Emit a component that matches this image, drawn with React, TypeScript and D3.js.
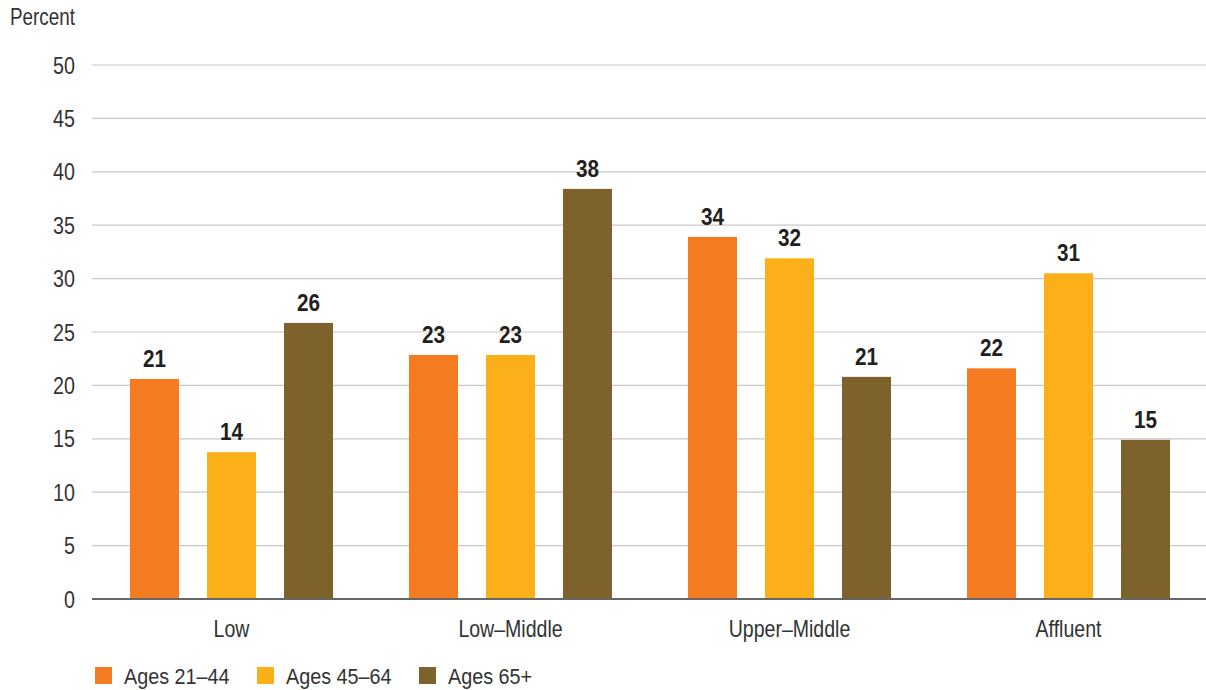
import React from "react";
import * as d3 from "d3";

const categories = ["Low", "Low\u2013Middle", "Upper\u2013Middle", "Affluent"];
const seriesNames = ["Ages 21\u201344", "Ages 45\u201364", "Ages 65+"];
const seriesColors = ["#F47B20", "#FBB01A", "#7D632B"];
const ages2144 = [20.6, 22.85, 33.9, 21.6];
const ages4564 = [13.75, 22.85, 31.9, 30.5];
const ages65 = [25.85, 38.4, 20.8, 14.9];
const labels2144 = ["21", "23", "34", "22"];
const labels4564 = ["14", "23", "32", "31"];
const labels65 = ["26", "38", "21", "15"];
const yTicks = [0, 5, 10, 15, 20, 25, 30, 35, 40, 45, 50];

const series = [ages2144, ages4564, ages65];
const seriesLabels = [labels2144, labels4564, labels65];

const W = 1206;
const H = 690;
const FONT = "'Liberation Sans', Arial, sans-serif";

function T(props: {
  x: number;
  y: number;
  sx?: number;
  size: number;
  anchor?: string;
  bold?: boolean;
  fill?: string;
  children: React.ReactNode;
}) {
  const { x, y, sx = 0.85, size, anchor = "start", bold = false, fill = "#333", children } = props;
  return (
    <text
      transform={`translate(${x},${y}) scale(${sx},1)`}
      textAnchor={anchor}
      fontFamily={FONT}
      fontSize={size}
      fontWeight={bold ? "bold" : "normal"}
      fill={fill}
    >
      {children}
    </text>
  );
}

export default function App() {
  const left = 92;
  const right = 1206;
  const y = d3.scaleLinear().domain([0, 50]).range([599, 65]);
  const x0 = d3.scaleBand<string>().domain(categories).range([92, 1208]).padding(0);
  const bw = 49;
  const offsets = [-77, 0, 77];

  return (
    <svg width={W} height={H} style={{ position: "absolute", left: 0, top: 0 }}>
      <rect x={0} y={0} width={W} height={H} fill="#fff" />
      <T x={10} y={25} size={23} sx={0.82}>Percent</T>
      {yTicks.map((t) => (
        <g key={t}>
          {t !== 0 && (
            <line x1={left} x2={right} y1={y(t)} y2={y(t)} stroke="#c8c8c8" strokeWidth={1.2} />
          )}
          <T x={75} y={y(t) + 8.5} anchor="end" size={24} sx={0.82}>
            {t}
          </T>
        </g>
      ))}
      {categories.map((c, ci) => {
        const cx = (x0(c) as number) + x0.bandwidth() / 2;
        return (
          <g key={c}>
            {series.map((s, si) => {
              const bx = cx + offsets[si] - bw / 2;
              return (
                <g key={si}>
                  <rect x={bx} y={y(s[ci])} width={bw} height={y(0) - y(s[ci])} fill={seriesColors[si]} />
                  <T x={bx + bw / 2} y={y(s[ci]) - 12} anchor="middle" size={23} sx={0.9} bold fill="#231f20">
                    {seriesLabels[si][ci]}
                  </T>
                </g>
              );
            })}
            <T x={cx} y={637} anchor="middle" size={23} sx={0.85}>
              {c}
            </T>
          </g>
        );
      })}
      <line x1={left} x2={right} y1={y(0)} y2={y(0)} stroke="#666" strokeWidth={2} />
      {seriesNames.map((n, i) => {
        const lx = [95, 257, 419][i];
        return (
          <g key={n}>
            <rect x={lx} y={667} width={17} height={17} fill={seriesColors[i]} />
            <T x={lx + 29} y={684} size={22} sx={0.9}>
              {n}
            </T>
          </g>
        );
      })}
    </svg>
  );
}
